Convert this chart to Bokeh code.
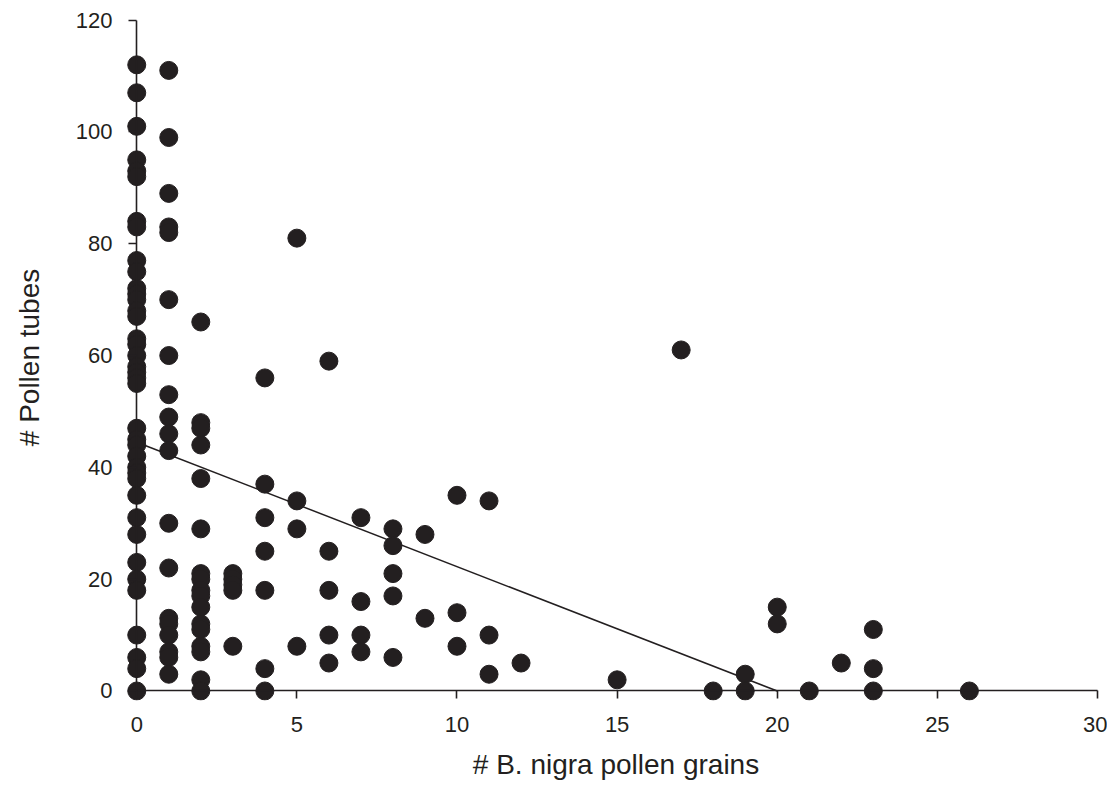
from bokeh.plotting import figure
from bokeh.models import Range1d, FixedTicker, ColumnDataSource, LinearAxis
from bokeh.embed import file_html
from bokeh.resources import INLINE

# --- data ---
x_vals = (
    [0] * 39 + [1] * 19 + [2] * 17 + [3] * 5 + [4] * 7 + [5] * 4 + [6] * 5 + [7] * 4 + [8] * 5
    + [9] * 2 + [10] * 3 + [11] * 3 + [12] + [15] + [17] + [18] + [19] * 2 + [20] * 2 + [21] + [22]
    + [23] * 3 + [26]
)
y_x0 = [112, 107, 101, 95, 93, 92, 84, 83, 77, 75, 72, 71, 70, 68, 67, 63, 62, 60, 58, 57, 56, 55,
        47, 45, 44, 42, 40, 39, 38, 35, 31, 28, 23, 20, 18, 10, 6, 4, 0]
y_x1 = [111, 99, 89, 83, 82, 70, 60, 53, 49, 46, 43, 30, 22, 13, 12, 10, 7, 6, 3]
y_x2 = [66, 48, 47, 44, 38, 29, 21, 20, 18, 17, 15, 12, 11, 8, 7, 2, 0]
y_x3 = [21, 20, 19, 18, 8]
y_x4 = [56, 37, 31, 25, 18, 4, 0]
y_x5 = [81, 34, 29, 8]
y_x6 = [59, 25, 18, 10, 5]
y_x7 = [31, 16, 10, 7]
y_x8 = [29, 26, 21, 17, 6]
y_x9 = [28, 13]
y_x10 = [35, 14, 8]
y_x11 = [34, 10, 3]
y_rest = [5, 2, 61, 0, 3, 0, 15, 12, 0, 5, 11, 4, 0, 0]
y_vals = y_x0 + y_x1 + y_x2 + y_x3 + y_x4 + y_x5 + y_x6 + y_x7 + y_x8 + y_x9 + y_x10 + y_x11 + y_rest

fit_x = [0, 20]
fit_y = [44.5, 0]

x_ticks = [0, 5, 10, 15, 20, 25, 30]
y_ticks = [0, 20, 40, 60, 80, 100, 120]

INK = "#231f20"
FONT = "Liberation Sans"

p = figure(
    width=1107, height=799,
    frame_width=979, frame_height=686,
    min_border_left=126, min_border_right=2, min_border_top=14, min_border_bottom=99,
    x_range=Range1d(-0.32, 30.25), y_range=Range1d(-1.7, 121),
    output_backend="svg", toolbar_location=None,
)
p.outline_line_color = None
p.grid.visible = False
p.background_fill_color = "white"
p.border_fill_color = "white"

src = ColumnDataSource(dict(x=x_vals, y=y_vals))
p.line(fit_x, fit_y, line_color=INK, line_width=1.5)
p.scatter("x", "y", source=src, size=18, fill_color=INK, line_color=INK)

# main axes at the frame edges: only labels
xa = p.xaxis[0]
ya = p.yaxis[0]
xa.ticker = FixedTicker(ticks=x_ticks)
ya.ticker = FixedTicker(ticks=y_ticks)
for ax in (xa, ya):
    ax.axis_line_color = None
    ax.major_tick_line_color = None
    ax.minor_tick_line_color = None
    ax.major_tick_out = 0
    ax.major_tick_in = 0
    ax.major_label_text_font = FONT
    ax.major_label_text_font_size = "22px"
    ax.major_label_text_color = INK
    ax.axis_label_text_font = FONT
    ax.axis_label_text_font_size = "28px"
    ax.axis_label_text_font_style = "normal"
    ax.axis_label_text_color = INK
xa.axis_label = "# B. nigra pollen grains"
ya.axis_label = "# Pollen tubes"
xa.major_label_standoff = 16
ya.major_label_standoff = 14
xa.axis_label_standoff = 14
ya.axis_label_standoff = 28

# axis lines + ticks drawn at data zero, bounded to the data extent
ax_x = LinearAxis(ticker=FixedTicker(ticks=x_ticks), fixed_location=0, bounds=(0, 30))
ax_y = LinearAxis(ticker=FixedTicker(ticks=y_ticks), fixed_location=0, bounds=(0, 120))
for ax in (ax_x, ax_y):
    ax.axis_line_color = INK
    ax.axis_line_width = 1.6
    ax.major_tick_line_color = INK
    ax.major_tick_line_width = 1.6
    ax.major_tick_in = 8
    ax.major_tick_out = 0
    ax.minor_tick_line_color = None
    ax.major_label_text_font_size = "0px"
    ax.major_label_text_color = None
    ax.major_label_standoff = 0
    ax.axis_label = None
p.add_layout(ax_x, "above")
p.add_layout(ax_y, "right")

open("out.html", "w").write(file_html(p, INLINE))
